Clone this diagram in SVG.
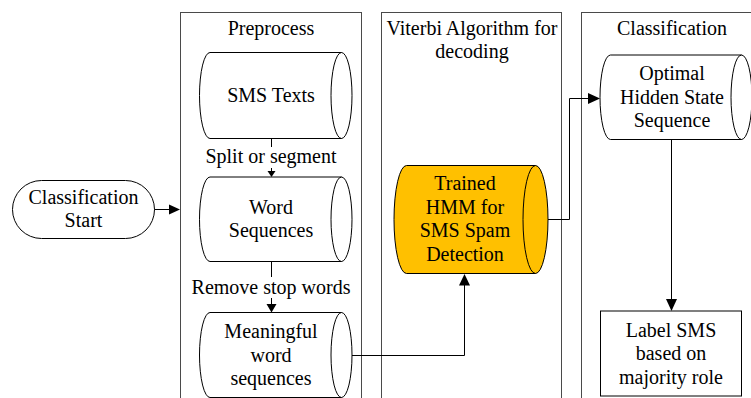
<svg xmlns="http://www.w3.org/2000/svg" width="751" height="398" viewBox="0 0 751 398">
<style>
text{font-family:"Liberation Serif","Times New Roman",serif;font-size:20px;fill:#000;text-anchor:middle}
.lane{fill:#fff;stroke:#4a4a4a;stroke-width:1}
.shape{fill:#fff;stroke:#000;stroke-width:1}
.hmm{fill:#FFC000;stroke:#000;stroke-width:1}
.inner{fill:none;stroke:#000;stroke-width:1}
.conn{fill:none;stroke:#000;stroke-width:1}
.head{fill:#000;stroke:none}
</style>
<rect x="0" y="0" width="751" height="398" fill="#fff"/>
<g id="lanes">
<g id="lane-preprocess">
<rect class="lane" x="180.5" y="12.5" width="181" height="400"/>
<text x="271" y="34.5">Preprocess</text>
</g>
<g id="lane-viterbi">
<rect class="lane" x="381.5" y="12.5" width="180" height="400"/>
<text x="472" y="34.5">Viterbi Algorithm for</text>
<text x="472" y="58">decoding</text>
</g>
<g id="lane-classification">
<rect class="lane" x="581.5" y="12.5" width="200" height="400"/>
<text x="672" y="34.5">Classification</text>
</g>
</g>
<g id="connectors">
<path class="conn" d="M154,209.5 H170"/>
<polygon class="head" points="180,209.5 169,204.5 169,214.5"/>
<path class="conn" d="M271.5,138.5 V172"/>
<polygon class="head" points="271.5,177 267.5,171 275.5,171"/>
<path class="conn" d="M271.5,261.5 V305"/>
<polygon class="head" points="271.5,312.5 266.5,304 276.5,304"/>
<path class="conn" d="M341.5,355.5 H464.5 V285"/>
<polygon class="head" points="464.5,274 459,285.5 470,285.5"/>
<path class="conn" d="M535,219.5 H569.5 V98.5 H589"/>
<polygon class="head" points="600,98.5 588,93 588,104"/>
<path class="conn" d="M671.5,139.5 V300"/>
<polygon class="head" points="671.5,311 666,299 677,299"/>
<rect x="200" y="147" width="142" height="21" fill="#fff"/>
<text x="271" y="163">Split or segment</text>
<rect x="188" y="277" width="166" height="21" fill="#fff"/>
<text x="271" y="294">Remove stop words</text>
</g>
<g id="node-start">
<rect class="shape" x="12.5" y="180.5" width="142" height="58" rx="29" ry="29"/>
<text x="83.5" y="203.5">Classification</text>
<text x="83.5" y="227">Start</text>
</g>
<g id="node-sms-texts">
<path class="shape" d="M210,52.5 H341.5 A10.5,43 0 0 1 341.5,138.5 H210 A10.5,43 0 0 1 210,52.5 Z"/>
<path class="inner" d="M341.5,52.5 A10.5,43 0 0 0 341.5,138.5"/>
<text x="271" y="102">SMS Texts</text>
</g>
<g id="node-word-sequences">
<path class="shape" d="M210,177 H341.5 A10.5,42.25 0 0 1 341.5,261.5 H210 A10.5,42.25 0 0 1 210,177 Z"/>
<path class="inner" d="M341.5,177 A10.5,42.25 0 0 0 341.5,261.5"/>
<text x="271" y="213.5">Word</text>
<text x="271" y="237">Sequences</text>
</g>
<g id="node-meaningful">
<path class="shape" d="M210,312.5 H341.5 A10.5,42.5 0 0 1 341.5,397.5 H210 A10.5,42.5 0 0 1 210,312.5 Z"/>
<path class="inner" d="M341.5,312.5 A10.5,42.5 0 0 0 341.5,397.5"/>
<text x="271" y="338">Meaningful</text>
<text x="271" y="361.5">word</text>
<text x="271" y="385">sequences</text>
</g>
<g id="node-hmm">
<path class="hmm" d="M406.5,165.5 H535.5 A12.5,54 0 0 1 535.5,273.5 H406.5 A12.5,54 0 0 1 406.5,165.5 Z"/>
<path class="inner" d="M535.5,165.5 A12.5,54 0 0 0 535.5,273.5"/>
<text x="465" y="190">Trained</text>
<text x="465" y="213.5">HMM for</text>
<text x="465" y="237">SMS Spam</text>
<text x="465" y="260.5">Detection</text>
</g>
<g id="node-optimal">
<path class="shape" d="M610.5,55 H741.5 A10.5,42.25 0 0 1 741.5,139.5 H610.5 A10.5,42.25 0 0 1 610.5,55 Z"/>
<path class="inner" d="M741.5,55 A10.5,42.25 0 0 0 741.5,139.5"/>
<text x="672" y="80">Optimal</text>
<text x="672" y="103.5">Hidden State</text>
<text x="672" y="127">Sequence</text>
</g>
<g id="node-label">
<rect class="shape" x="600.5" y="311" width="141" height="85"/>
<text x="671" y="336.5">Label SMS</text>
<text x="671" y="360">based on</text>
<text x="671" y="383.5">majority role</text>
</g>
</svg>
